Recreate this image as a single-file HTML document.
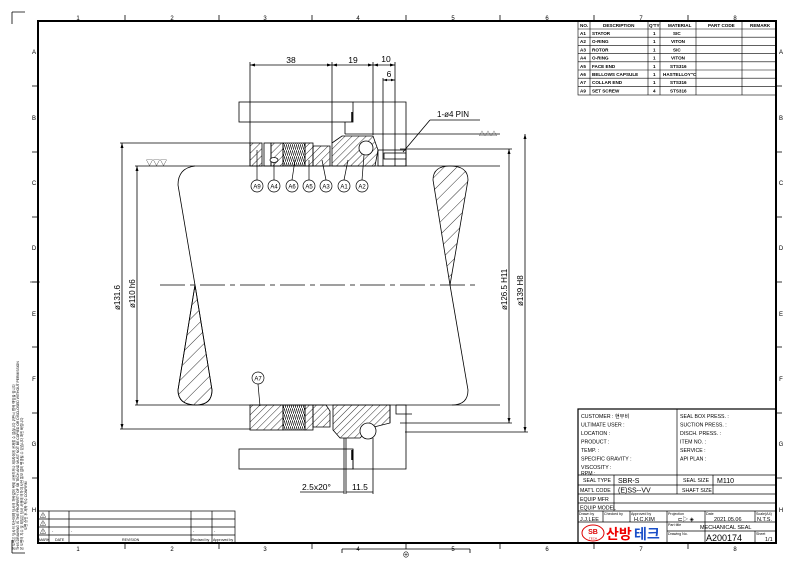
<!DOCTYPE html>
<html><head><meta charset="utf-8"><style>
body{margin:0;background:#fff}
svg{display:block}
text{font-family:"Liberation Sans","Noto Sans CJK KR",sans-serif;fill:#000}
</style></head><body>
<svg width="800" height="565" viewBox="0 0 800 565" xmlns="http://www.w3.org/2000/svg">
<defs>
<pattern id="h" width="5" height="5" patternUnits="userSpaceOnUse" patternTransform="rotate(45)">
<line x1="0" y1="0" x2="0" y2="5" stroke="#000" stroke-width="0.8"/></pattern>
<pattern id="h2" width="9" height="9" patternUnits="userSpaceOnUse" patternTransform="rotate(45)">
<line x1="0" y1="0" x2="0" y2="9" stroke="#000" stroke-width="0.8"/></pattern>
<pattern id="sp" width="2" height="6" patternUnits="userSpaceOnUse">
<path d="M0 0 L2 6" stroke="#000" stroke-width="0.7"/></pattern>
</defs>
<!-- corner marks -->
<path d="M12 12 H25 M12 12 V24" stroke="#000" fill="none" stroke-width="0.8"/>
<path d="M12 553 H25 M12 553 V540" stroke="#000" fill="none" stroke-width="0.8"/>
<!-- frame -->
<rect x="38" y="21" width="738" height="522" fill="none" stroke="#000" stroke-width="2"/>
<g stroke="#000" stroke-width="0.8">
<line x1="125" y1="15" x2="125" y2="21"/><line x1="219" y1="15" x2="219" y2="21"/><line x1="312" y1="15" x2="312" y2="21"/><line x1="406" y1="15" x2="406" y2="21"/><line x1="500" y1="15" x2="500" y2="21"/><line x1="594" y1="15" x2="594" y2="21"/><line x1="688" y1="15" x2="688" y2="21"/>
<line x1="125" y1="543" x2="125" y2="549"/><line x1="219" y1="543" x2="219" y2="549"/><line x1="312" y1="543" x2="312" y2="549"/><line x1="406" y1="543" x2="406" y2="549"/><line x1="500" y1="543" x2="500" y2="549"/><line x1="594" y1="543" x2="594" y2="549"/><line x1="688" y1="543" x2="688" y2="549"/>
<line x1="32" y1="86" x2="38" y2="86"/><line x1="32" y1="152" x2="38" y2="152"/><line x1="32" y1="217" x2="38" y2="217"/><line x1="32" y1="282" x2="38" y2="282"/><line x1="32" y1="347" x2="38" y2="347"/><line x1="32" y1="413" x2="38" y2="413"/><line x1="32" y1="478" x2="38" y2="478"/>
<line x1="776" y1="86" x2="782" y2="86"/><line x1="776" y1="152" x2="782" y2="152"/><line x1="776" y1="217" x2="782" y2="217"/><line x1="776" y1="282" x2="782" y2="282"/><line x1="776" y1="347" x2="782" y2="347"/><line x1="776" y1="413" x2="782" y2="413"/><line x1="776" y1="478" x2="782" y2="478"/>
</g>
<g font-size="6" text-anchor="middle">
<text x="78" y="20">1</text><text x="172" y="20">2</text><text x="265" y="20">3</text><text x="358" y="20">4</text><text x="453" y="20">5</text><text x="547" y="20">6</text><text x="641" y="20">7</text><text x="735" y="20">8</text>
<text x="78" y="551">1</text><text x="172" y="551">2</text><text x="265" y="551">3</text><text x="358" y="551">4</text><text x="453" y="551">5</text><text x="547" y="551">6</text><text x="641" y="551">7</text><text x="735" y="551">8</text>
<text x="34" y="54">A</text><text x="34" y="120">B</text><text x="34" y="185">C</text><text x="34" y="250">D</text><text x="34" y="316">E</text><text x="34" y="381">F</text><text x="34" y="446">G</text><text x="34" y="512">H</text>
<text x="781" y="54">A</text><text x="781" y="120">B</text><text x="781" y="185">C</text><text x="781" y="250">D</text><text x="781" y="316">E</text><text x="781" y="381">F</text><text x="781" y="446">G</text><text x="781" y="512">H</text>
</g>
<path d="M342 549 H470 M342 549 V553 M470 549 V553" stroke="#000" stroke-width="0.8" fill="none"/>
<text x="406" y="557" font-size="7" text-anchor="middle">⊕</text>
<line x1="30" y1="282" x2="40" y2="282" stroke="#000" stroke-width="0.6"/>
<!-- left note strip -->
<g font-size="3.4" fill="#333">
<text transform="translate(15,550) rotate(-90)">본 도면은 당사의 자산이며 당사의 허락없이 복제 사용하거나 제3자에게 공개할 수 없습니다 위반시 법적 책임을 집니다</text>
<text transform="translate(19,550) rotate(-90)">THIS DRAWING IS THE PROPERTY OF SB TECH AND MUST NOT BE COPIED OR DISCLOSED WITHOUT PERMISSION</text>
<text transform="translate(23,550) rotate(-90)">본 도면의 치수 및 재질은 당사 사정에 의하여 사전 통보 없이 변경될 수 있습니다 확인 바랍니다</text>
<text transform="translate(27,530) rotate(-90)">도면 승인 후 제작 착수 CONFIRM</text>
</g>

<!-- parts table -->
<g stroke="#000" stroke-width="0.6" fill="none">
<rect x="578" y="21" width="198" height="74"/>
<line x1="578" y1="29" x2="776" y2="29"/><line x1="578" y1="37.2" x2="776" y2="37.2"/><line x1="578" y1="45.4" x2="776" y2="45.4"/><line x1="578" y1="53.6" x2="776" y2="53.6"/><line x1="578" y1="61.8" x2="776" y2="61.8"/><line x1="578" y1="70" x2="776" y2="70"/><line x1="578" y1="78.2" x2="776" y2="78.2"/><line x1="578" y1="86.4" x2="776" y2="86.4"/>
<line x1="590" y1="21" x2="590" y2="95"/><line x1="648" y1="21" x2="648" y2="95"/><line x1="660" y1="21" x2="660" y2="95"/><line x1="696" y1="21" x2="696" y2="95"/><line x1="742" y1="21" x2="742" y2="95"/>
</g>
<g font-size="4.6" font-weight="bold">
<text x="580" y="27">NO.</text><text x="603" y="27">DESCRIPTION</text><text x="649" y="27">Q'TY</text><text x="668" y="27">MATERIAL</text><text x="708" y="27">PART CODE</text><text x="750" y="27">REMARK</text>
<text x="580" y="35">A1</text><text x="592" y="35">STATOR</text><text x="653" y="35">1</text><text x="673" y="35">SIC</text>
<text x="580" y="43.2">A2</text><text x="592" y="43.2">O-RING</text><text x="653" y="43.2">1</text><text x="671" y="43.2">VITON</text>
<text x="580" y="51.4">A3</text><text x="592" y="51.4">ROTOR</text><text x="653" y="51.4">1</text><text x="673" y="51.4">SIC</text>
<text x="580" y="59.6">A4</text><text x="592" y="59.6">O-RING</text><text x="653" y="59.6">1</text><text x="671" y="59.6">VITON</text>
<text x="580" y="67.8">A5</text><text x="592" y="67.8">FACE END</text><text x="653" y="67.8">1</text><text x="670" y="67.8">STS316</text>
<text x="580" y="76">A6</text><text x="592" y="76">BELLOWS CAPSULE</text><text x="653" y="76">1</text><text x="663" y="76">HASTELLOY"C</text>
<text x="580" y="84.2">A7</text><text x="592" y="84.2">COLLAR END</text><text x="653" y="84.2">1</text><text x="670" y="84.2">STS316</text>
<text x="580" y="92.4">A9</text><text x="592" y="92.4">SET SCREW</text><text x="653" y="92.4">4</text><text x="670" y="92.4">STS316</text>
</g>

<!-- title block -->
<g stroke="#000" stroke-width="0.7" fill="none">
<rect x="578" y="409" width="198" height="134" stroke-width="1.2"/>
<line x1="677" y1="409" x2="677" y2="475"/>
<line x1="578" y1="475" x2="776" y2="475"/><line x1="578" y1="485" x2="776" y2="485"/><line x1="578" y1="494" x2="776" y2="494"/><line x1="578" y1="503" x2="776" y2="503"/><line x1="578" y1="511" x2="776" y2="511"/><line x1="578" y1="522" x2="776" y2="522"/>
<line x1="614" y1="475" x2="614" y2="511"/><line x1="677" y1="475" x2="677" y2="494"/><line x1="713" y1="475" x2="713" y2="494"/>
<line x1="603" y1="511" x2="603" y2="522"/><line x1="630" y1="511" x2="630" y2="522"/><line x1="667" y1="511" x2="667" y2="522"/><line x1="705" y1="511" x2="705" y2="543"/><line x1="755" y1="511" x2="755" y2="522"/>
<line x1="667" y1="522" x2="667" y2="543"/><line x1="667" y1="531" x2="776" y2="531"/><line x1="755" y1="531" x2="755" y2="543"/>
</g>
<g font-size="5.2">
<text x="581" y="418">CUSTOMER : 현무비</text><text x="581" y="426.5">ULTIMATE USER :</text><text x="581" y="435">LOCATION :</text><text x="581" y="443.5">PRODUCT :</text><text x="581" y="452">TEMP. :</text><text x="581" y="460.5">SPECIFIC GRAVITY :</text><text x="581" y="469">VISCOSITY :</text><text x="581" y="475">RPM :</text>
<text x="680" y="418">SEAL BOX PRESS. :</text><text x="680" y="426.5">SUCTION PRESS. :</text><text x="680" y="435">DISCH. PRESS. :</text><text x="680" y="443.5">ITEM NO. :</text><text x="680" y="452">SERVICE :</text><text x="680" y="460.5">API PLAN :</text>
<text x="583" y="482">SEAL TYPE</text><text x="580" y="492">MAT'L CODE</text><text x="580" y="501">EQUIP MFR</text><text x="580" y="509.5">EQUIP MODEL</text>
<text x="683" y="482">SEAL SIZE</text><text x="682" y="492">SHAFT SIZE</text>
</g>
<g font-size="7"><text x="618" y="483">SBR-S</text><text x="618" y="492.5">(E)SS--VV</text><text x="717" y="483">M110</text></g>
<g font-size="3.6"><text x="579" y="515">Drawn by</text><text x="604" y="515">Checked by</text><text x="631" y="515">Approved by</text><text x="668" y="515">Projection</text><text x="706" y="515">Date</text><text x="756" y="515">Scale(A4)</text>
<text x="668" y="526">Part title</text><text x="668" y="535">Drawing No.</text><text x="756" y="535">Sheet</text></g>
<g font-size="5.5"><text x="580" y="521">J.J.LEE</text><text x="634" y="521">H.C.KIM</text><text x="678" y="521">⊏▷ ◈</text><text x="714" y="521">2021.05.06</text><text x="757" y="521">N.T.S.</text>
<text x="700" y="529">MECHANICAL SEAL</text><text x="765" y="541">1/1</text></g>
<text x="706" y="541" font-size="9">A200174</text>
<ellipse cx="593" cy="533" rx="11" ry="8" fill="none" stroke="#d00" stroke-width="1"/>
<text x="593" y="534" font-size="7" font-weight="bold" text-anchor="middle" style="fill:#d00">SB</text>
<text x="593" y="539.5" font-size="3" text-anchor="middle" style="fill:#d00">TECH</text>
<text x="606" y="539" font-size="14" font-weight="bold" style="fill:#e00">산방</text><text x="634" y="539" font-size="14" font-weight="bold" style="fill:#1a4fc8">테크</text>

<!-- revision block -->
<g stroke="#000" stroke-width="0.7" fill="none">
<rect x="38" y="511" width="197" height="32"/>
<line x1="38" y1="519" x2="235" y2="519"/><line x1="38" y1="527" x2="235" y2="527"/><line x1="38" y1="535" x2="235" y2="535"/>
<line x1="49" y1="511" x2="49" y2="543"/><line x1="69" y1="511" x2="69" y2="543"/><line x1="191" y1="511" x2="191" y2="543"/><line x1="212" y1="511" x2="212" y2="543"/>
</g>
<g font-size="3.6"><text x="39" y="541">MARK</text><text x="55" y="541">DATE</text><text x="122" y="541">REVISION</text><text x="191.5" y="541">Revised by</text><text x="213" y="541">Approved by</text>
<text x="52" y="532">-</text><text x="71" y="532">-</text><text x="193" y="532">-</text><text x="214" y="532">-</text></g>
<g font-size="6"><text x="40" y="518">⚠</text><text x="40" y="526">⚠</text><text x="40" y="534">⚠</text></g>

<!-- shaft drawing -->
<g stroke="#000" stroke-width="0.8" fill="none">
<line x1="160" y1="285" x2="480" y2="285" stroke-dasharray="25 5 5 5"/>
<line x1="195" y1="166" x2="500" y2="166"/>
<line x1="200" y1="405" x2="500" y2="405"/>
<path d="M195 166 Q178 168 178 185 L195 285 L178 390 Q178 405 196 405 Q212 405 212 390 L195 285"/>
<path d="M195 285 L178 390 Q178 405 196 405 Q212 405 212 390 Z" fill="url(#h2)"/>
<path d="M450 285 L433 180 Q433 166 450 166 Q468 166 468 180 Z" fill="url(#h2)"/>
<path d="M450 285 L468 390 Q468 405 452 405"/>
<!-- dimension lines left -->
<line x1="120" y1="143" x2="250" y2="143"/><line x1="120" y1="429" x2="250" y2="429"/>
<line x1="135" y1="166" x2="195" y2="166"/>
<line x1="122" y1="143" x2="122" y2="429"/><line x1="137" y1="166" x2="137" y2="405"/>
<line x1="135" y1="405" x2="200" y2="405"/>
<!-- right dims -->
<line x1="345" y1="134" x2="500" y2="134"/>
<line x1="400" y1="149" x2="512" y2="149"/><line x1="400" y1="423" x2="512" y2="423"/>
<line x1="509" y1="149" x2="509" y2="423"/>
<line x1="525" y1="134" x2="525" y2="432"/>
<line x1="405" y1="432" x2="528" y2="432"/>
</g>
<g fill="#000">
<path d="M122 143 l-1.5 5 h3z"/><path d="M122 429 l-1.5 -5 h3z"/><path d="M137 166 l-1.5 5 h3z"/><path d="M137 405 l-1.5 -5 h3z"/>
<path d="M509 149 l-1.5 5 h3z"/><path d="M509 423 l-1.5 -5 h3z"/><path d="M525 134 l-1.5 5 h3z"/><path d="M525 432 l-1.5 -5 h3z"/>
</g>
<text transform="translate(120,310) rotate(-90)" font-size="8">ø131.6</text>
<text transform="translate(135,308) rotate(-90)" font-size="8">ø110 h6</text>
<text transform="translate(507,310) rotate(-90)" font-size="8">ø126.5 H11</text>
<text transform="translate(523,306) rotate(-90)" font-size="8">ø139 H8</text>
<text x="146" y="165" font-size="7">▽▽▽</text><text x="479" y="136" font-size="6">△△△</text>

<!-- top seal -->
<g stroke="#000" stroke-width="0.8" fill="none">
<line x1="250" y1="65" x2="395" y2="65"/><line x1="383" y1="80" x2="395" y2="80"/>
<line x1="250" y1="62" x2="250" y2="166"/><line x1="332" y1="62" x2="332" y2="143"/><line x1="373" y1="62" x2="373" y2="135"/><line x1="395" y1="62" x2="395" y2="166"/><line x1="383" y1="78" x2="383" y2="166"/>
<rect x="239" y="102" width="114" height="20"/>
<path d="M353 102 H406 V166"/>
<line x1="352" y1="112" x2="352" y2="122" stroke-width="1.5"/>
<line x1="345" y1="122" x2="345" y2="134"/>
<rect x="250" y="143" width="12" height="23" fill="url(#h)"/>
<rect x="264" y="143" width="7" height="23"/>
<rect x="271" y="143" width="12" height="23" fill="url(#h)"/>
<rect x="283" y="143" width="22" height="23" fill="url(#sp)"/>
<rect x="305" y="143" width="8" height="23" fill="url(#h)"/>
<path d="M313 146 H330 V166 H313 Z" fill="url(#h)"/>
<path d="M332 143 L342 136 H373 L378 150 L375 166 H332 Z" fill="url(#h)"/>
<circle cx="366" cy="148" r="7" fill="#fff"/>
<rect x="378" y="150" width="28" height="16"/>
<rect x="384" y="153" width="22" height="6"/>
<line x1="403" y1="152" x2="430" y2="120"/><line x1="430" y1="120" x2="480" y2="120"/>
</g>
<ellipse cx="274" cy="160" rx="4" ry="2.5" fill="#fff" stroke="#000" stroke-width="0.8"/>
<g fill="#000"><path d="M250 65 l5 -1.5 v3z"/><path d="M332 65 l-5 -1.5 v3z"/><path d="M332 65 l5 -1.5 v3z"/><path d="M373 65 l-5 -1.5 v3z"/><path d="M373 65 l5 -1.5 v3z"/><path d="M395 65 l-5 -1.5 v3z"/><path d="M383 80 l4 -1.2 v2.4z"/><path d="M395 80 l-4 -1.2 v2.4z"/></g>
<g font-size="8.5" text-anchor="middle"><text x="291" y="63">38</text><text x="353" y="63">19</text><text x="386" y="62">10</text><text x="389" y="77">6</text></g>
<text x="437" y="117" font-size="8">1-ø4 PIN</text>
<!-- balloons -->
<g stroke="#000" stroke-width="0.7" fill="#fff">
<line x1="257" y1="150" x2="257" y2="180"/><line x1="274" y1="163" x2="274" y2="180"/><line x1="295" y1="160" x2="292" y2="180"/><line x1="309" y1="160" x2="309" y2="180"/><line x1="322" y1="160" x2="326" y2="180"/><line x1="348" y1="160" x2="344" y2="180"/><line x1="364" y1="155" x2="362" y2="180"/>
<circle cx="257" cy="186" r="6"/><circle cx="274" cy="186" r="6"/><circle cx="292" cy="186" r="6"/><circle cx="309" cy="186" r="6"/><circle cx="326" cy="186" r="6"/><circle cx="344" cy="186" r="6"/><circle cx="362" cy="186" r="6"/>
<line x1="258" y1="384" x2="260" y2="406"/><circle cx="258" cy="378" r="6"/>
</g>
<g font-size="6" text-anchor="middle"><text x="257" y="188.5">A9</text><text x="274" y="188.5">A4</text><text x="292" y="188.5">A6</text><text x="309" y="188.5">A5</text><text x="326" y="188.5">A3</text><text x="344" y="188.5">A1</text><text x="362" y="188.5">A2</text><text x="258" y="380.5">A7</text></g>

<!-- bottom seal -->
<g stroke="#000" stroke-width="0.8" fill="none">
<rect x="250" y="405" width="33" height="25" fill="url(#h)"/>
<rect x="283" y="405" width="22" height="25" fill="url(#sp)"/>
<rect x="305" y="405" width="8" height="25" fill="url(#h)"/>
<path d="M313 405 H326 L330 411 V427 H313 Z" fill="url(#h)"/>
<path d="M333 405 H390 V423 L370 428 L360 438 H340 L333 430 Z" fill="url(#h)"/>
<circle cx="368" cy="431" r="8" fill="#fff"/>
<path d="M390 405 V423 M396 405 V414 H405 M396 405 H406 V432 M405 414 H412"/>
<rect x="239" y="449" width="114" height="20"/>
<path d="M353 449 V469 H406 V432"/>
<line x1="352" y1="450" x2="352" y2="460" stroke-width="1.5"/>
<line x1="344" y1="438" x2="344" y2="494"/><line x1="346" y1="438" x2="346" y2="494"/><line x1="373" y1="438" x2="373" y2="494"/>
<line x1="300" y1="492" x2="344" y2="492"/><line x1="346" y1="492" x2="373" y2="492"/>
</g>
<g font-size="8.5"><text x="302" y="490">2.5x20°</text><text x="352" y="490">11.5</text></g>
</svg>
</body></html>
